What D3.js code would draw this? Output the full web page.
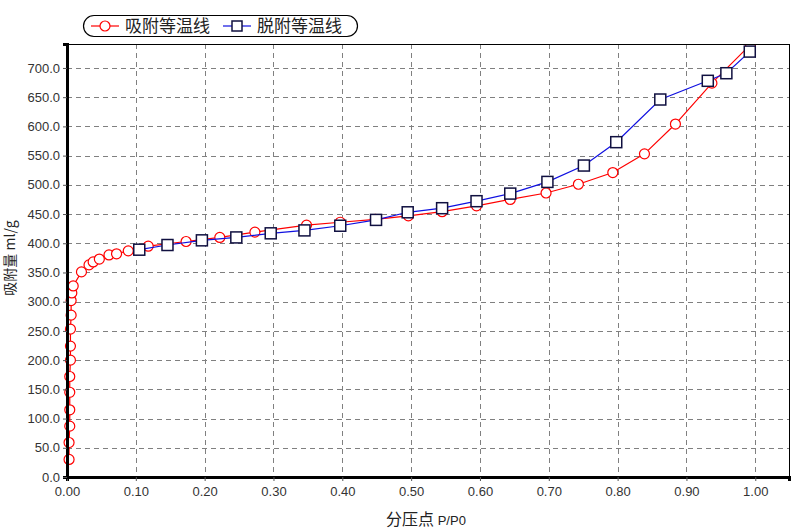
<!DOCTYPE html>
<html>
<head>
<meta charset="utf-8">
<script src="https://cdn.jsdelivr.net/npm/d3@7"></script>
<style>
	body { margin: 0; background: #fff; }
	svg { display: block; }
	.tick text { font-family: "Liberation Sans", Arial, sans-serif; font-size: 13px; fill: #333; }
	.cjk { font-family: "Noto Sans CJK SC", sans-serif; }
</style>
</head>
<body>
<svg id="chart" width="800" height="531"></svg>
<script>
// adsorption isotherm (吸附等温线)
const adsP = [0.003, 0.003, 0.004, 0.004, 0.004, 0.004, 0.005, 0.005, 0.005, 0.006, 0.006, 0.007, 0.009,
	0.021, 0.032, 0.038, 0.047, 0.061, 0.072, 0.089, 0.118, 0.173, 0.222, 0.273, 0.348, 0.397, 0.448,
	0.496, 0.545, 0.595, 0.644, 0.696, 0.743, 0.793, 0.839, 0.884, 0.937, 0.993];
const adsV = [30, 59, 87, 115, 145, 172, 200, 224, 253, 277, 302, 315, 327,
	351, 363, 368, 373, 380, 382, 387, 395, 403, 410, 419, 431, 436, 441,
	447, 454, 464, 475, 486, 501, 521, 553, 604, 674, 740];
// desorption isotherm (脱附等温线)
const desP = [0.105, 0.146, 0.196, 0.246, 0.296, 0.345, 0.397, 0.449, 0.495, 0.545, 0.595, 0.644,
	0.698, 0.751, 0.798, 0.862, 0.931, 0.958, 0.992];
const desV = [389, 397, 405, 410, 417, 422, 430, 440, 453, 460, 472, 485,
	505, 533, 573, 646, 678, 691, 728];

const xTicks = [0, 0.1, 0.2, 0.3, 0.4, 0.5, 0.6, 0.7, 0.8, 0.9, 1.0];
const yTicks = d3.range(0, 701, 50);

const svg = d3.select("#chart");
const plotL = 67, plotR = 789, plotT = 44, plotB = 477;

const x = d3.scaleLinear().domain([0, 1.049]).range([plotL, plotR]);
const y = d3.scaleLinear().domain([0, 741]).range([plotB, plotT]);

svg.append("defs").append("clipPath").attr("id", "clip")
	.append("rect").attr("x", 0).attr("y", plotT).attr("width", 800).attr("height", 531 - plotT);

// grid
const grid = svg.append("g").attr("stroke", "#808080").attr("stroke-dasharray", "5,4").attr("stroke-width", 1);
grid.selectAll(".gx").data(xTicks.slice(1)).enter().append("line")
	.attr("x1", d => Math.round(x(d)) + 0.5).attr("x2", d => Math.round(x(d)) + 0.5)
	.attr("y1", plotT).attr("y2", plotB);
grid.selectAll(".gy").data(yTicks.slice(1)).enter().append("line")
	.attr("y1", d => Math.round(y(d)) + 0.5).attr("y2", d => Math.round(y(d)) + 0.5)
	.attr("x1", plotL).attr("x2", plotR);

// series
const ads = adsP.map((p, i) => ({ p, v: adsV[i] }));
const des = desP.map((p, i) => ({ p, v: desV[i] }));
const line = d3.line().x(d => x(d.p)).y(d => y(d.v));

const plot = svg.append("g").attr("clip-path", "url(#clip)");
plot.append("path").datum(ads).attr("d", line)
	.attr("fill", "none").attr("stroke", "#ff0000").attr("stroke-width", 1.2);
plot.selectAll(".ads").data(ads).enter().append("circle")
	.attr("class", "ads")
	.attr("cx", d => x(d.p)).attr("cy", d => y(d.v)).attr("r", 5)
	.attr("fill", "#fff").attr("stroke", "#ff0000").attr("stroke-width", 1.2);

plot.append("path").datum(des).attr("d", line)
	.attr("fill", "none").attr("stroke", "#1010e0").attr("stroke-width", 1.2);
plot.selectAll(".des").data(des).enter().append("rect")
	.attr("class", "des")
	.attr("x", d => x(d.p) - 5.5).attr("y", d => y(d.v) - 5.5)
	.attr("width", 11).attr("height", 11)
	.attr("fill", "#fff").attr("stroke", "#101040").attr("stroke-width", 1.5);

// frame
svg.append("rect")
	.attr("x", plotL + 0.5).attr("y", plotT + 0.5)
	.attr("width", plotR - plotL).attr("height", plotB - plotT)
	.attr("fill", "none").attr("stroke", "#000");

// axes
const xAxis = svg.append("g").attr("transform", `translate(0,${plotB})`)
	.call(d3.axisBottom(x).tickValues(xTicks).tickFormat(d3.format(".2f")).tickSizeOuter(0).tickSize(4).tickPadding(6));
const yAxis = svg.append("g").attr("transform", `translate(${plotL},0)`)
	.call(d3.axisLeft(y).tickValues(yTicks).tickFormat(d3.format(".1f")).tickSizeOuter(0).tickSize(4).tickPadding(3));
xAxis.select(".domain").attr("stroke-width", 3);
yAxis.select(".domain").attr("stroke-width", 3);
xAxis.selectAll(".tick line").attr("stroke", "#555");
yAxis.selectAll(".tick line").attr("stroke", "#555");

// axis titles
const xt = svg.append("text").attr("x", 426).attr("y", 525).attr("text-anchor", "middle").attr("fill", "#222");
xt.append("tspan").attr("class", "cjk").attr("font-size", 16).text("分压点 ");
xt.append("tspan").attr("font-family", "Liberation Sans, Arial, sans-serif").attr("font-size", 13).text("P/P0");

svg.append("text").attr("class", "cjk")
	.attr("transform", "translate(15,258) rotate(-90)")
	.attr("text-anchor", "middle").attr("font-size", 14).attr("fill", "#222")
	.text("吸附量 ml/g");

// legend
const lg = svg.append("g");
lg.append("rect").attr("x", 83.5).attr("y", 15.5).attr("width", 274).attr("height", 21).attr("rx", 10.5)
	.attr("fill", "#fff").attr("stroke", "#000").attr("stroke-width", 1.2);
const items = [
	{ name: "吸附等温线", x0: 91, color: "#ff0000", mark: "circle" },
	{ name: "脱附等温线", x0: 223, color: "#1010e0", mark: "square" }
];
items.forEach(it => {
	lg.append("line").attr("x1", it.x0).attr("x2", it.x0 + 28).attr("y1", 26).attr("y2", 26)
		.attr("stroke", it.color).attr("stroke-width", 1.2);
	if (it.mark === "circle") {
		lg.append("circle").attr("cx", it.x0 + 14).attr("cy", 26).attr("r", 5)
			.attr("fill", "#fff").attr("stroke", it.color).attr("stroke-width", 1.2);
	} else {
		lg.append("rect").attr("x", it.x0 + 9).attr("y", 21).attr("width", 10).attr("height", 10)
			.attr("fill", "#fff").attr("stroke", "#101040").attr("stroke-width", 1.5);
	}
	lg.append("text").attr("class", "cjk").attr("x", it.x0 + 34).attr("y", 32)
		.attr("font-size", 17).attr("fill", "#222").text(it.name);
});
</script>
</body>
</html>
